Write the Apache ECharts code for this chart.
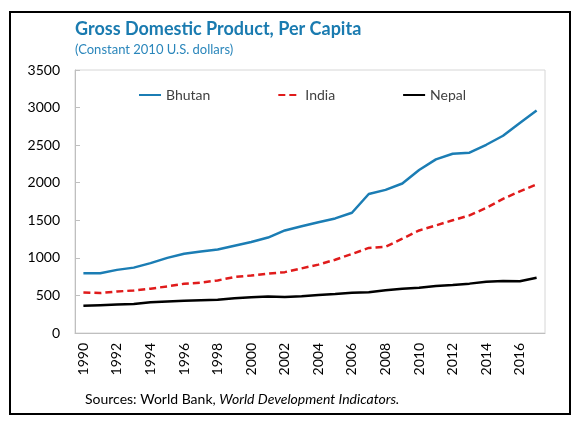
<!DOCTYPE html>
<html>
<head>
<meta charset="utf-8">
<script src="https://cdn.jsdelivr.net/npm/echarts@6/dist/echarts.min.js"></script>
<style>html,body{margin:0;padding:0;background:#fff}#c{width:580px;height:430px}</style>
</head>
<body>
<div id="c"></div>
<script>
const years = ['1990','1991','1992','1993','1994','1995','1996','1997','1998','1999','2000','2001','2002','2003','2004','2005','2006','2007','2008','2009','2010','2011','2012','2013','2014','2015','2016','2017'];
const bhutan = [795,795,840,870,930,1000,1055,1085,1110,1160,1210,1270,1365,1420,1475,1525,1600,1850,1905,1990,2170,2310,2385,2400,2505,2625,2795,2960];
const india = [540,532,552,566,590,620,655,670,700,745,765,790,810,860,910,975,1052,1132,1148,1255,1365,1432,1500,1565,1665,1785,1885,1978];
const nepal = [362,370,378,386,408,418,428,436,442,462,476,486,478,490,505,518,535,543,568,590,603,625,640,657,683,692,690,735];
const yTicks = {min:0, max:3500, interval:500};

const FONT = 'Lato';
const chart = echarts.init(document.getElementById('c'), null, {renderer:'canvas'});
chart.setOption({
  animation:false,
  backgroundColor:'#fff',
  textStyle:{fontFamily:FONT},
  grid:{left:75, right:35, top:70, bottom:97, show:true, borderColor:'#d6d6d6', borderWidth:1},
  legend:{
    left:133, top:83, itemWidth:22, itemHeight:10, itemGap:67, itemTextGap:1,
    itemStyle:{opacity:0},
    textStyle:{fontFamily:FONT, fontSize:14, color:'#404040'},
    data:['Bhutan','India','Nepal']
  },
  xAxis:{
    type:'category', data:years, boundaryGap:true,
    axisLine:{lineStyle:{color:'#bfbfbf'}},
    axisTick:{inside:true, length:5, interval:0, lineStyle:{color:'#bfbfbf'}},
    axisLabel:{rotate:90, interval:1, margin:10, fontFamily:FONT, fontSize:14, color:'#000'}
  },
  yAxis:{
    type:'value', min:yTicks.min, max:yTicks.max, interval:yTicks.interval,
    splitLine:{show:false},
    axisLine:{show:true, lineStyle:{color:'#bfbfbf'}},
    axisTick:{show:true, inside:true, length:5, lineStyle:{color:'#bfbfbf'}},
    axisLabel:{margin:15, fontFamily:FONT, fontSize:14, color:'#000', formatter:function(v){return String(v);}}
  },
  series:[
    {name:'Bhutan', type:'line', data:bhutan, symbol:'none', lineStyle:{color:'#1b7db4', width:2.5}, itemStyle:{color:'#1b7db4'}},
    {name:'India', type:'line', data:india, symbol:'none', lineStyle:{color:'#e01b1b', width:2.5, type:[7,4]}, itemStyle:{color:'#e01b1b'}},
    {name:'Nepal', type:'line', data:nepal, symbol:'none', lineStyle:{color:'#000', width:2.5}, itemStyle:{color:'#000'}}
  ],
  graphic:[
    {type:'rect', shape:{x:10, y:12, width:560, height:402}, style:{fill:null, stroke:'#000', lineWidth:2}, silent:true, z:-1},
    {type:'text', left:75, top:20, style:{text:'Gross Domestic Product, Per Capita', fontFamily:FONT, fontWeight:'bold', fontSize:18, fill:'#1a7bb0'}},
    {type:'text', left:75, top:43, style:{text:'(Constant 2010 U.S. dollars)', fontFamily:FONT, fontSize:13, fill:'#2a86bb'}},
    {type:'text', left:85, top:392, style:{rich:{n:{fontFamily:FONT, fontSize:14, fill:'#000'}, i:{fontFamily:FONT, fontSize:14, fontStyle:'italic', fill:'#000'}}, text:'{n|Sources: World Bank, }{i|World Development Indicators.}'}}
  ]
});
</script>
</body>
</html>
